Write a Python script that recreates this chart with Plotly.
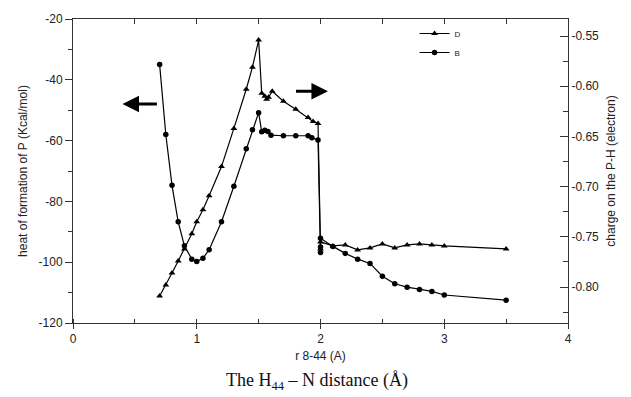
import plotly.graph_objects as go

# Series B (circles) - left axis: heat of formation of P (Kcal/mol)
b_x = [0.70, 0.75, 0.80, 0.85, 0.90, 0.96, 1.00, 1.05, 1.10, 1.20, 1.30, 1.40, 1.45, 1.50,
       1.525, 1.55, 1.575, 1.60, 1.70, 1.80, 1.90, 1.93, 1.98, 2.00, 2.00, 2.00,
       2.10, 2.20, 2.30, 2.40, 2.50, 2.60, 2.70, 2.80, 2.90, 3.00, 3.50]
b_y = [-35.0, -58.0, -74.7, -86.7, -94.6, -99.0, -99.8, -98.7, -95.9, -86.7, -75.0, -62.7, -56.4, -50.8,
       -57.1, -56.6, -57.0, -58.2, -58.4, -58.4, -58.4, -59.1, -59.8, -96.8, -95.0, -92.1,
       -94.8, -97.1, -99.0, -100.4, -104.6, -107.1, -108.2, -109.0, -109.6, -110.8, -112.5]

# Series D (triangles) - right axis: charge on the P-H (electron)
d_x = [0.70, 0.75, 0.80, 0.85, 0.90, 0.96, 1.00, 1.05, 1.10, 1.20, 1.30, 1.40, 1.45, 1.50,
       1.525, 1.55, 1.565, 1.58, 1.61, 1.70, 1.80, 1.90, 1.94, 1.98, 2.00, 2.00,
       2.10, 2.20, 2.30, 2.40, 2.50, 2.60, 2.70, 2.80, 2.90, 3.00, 3.50]
d_y = [-0.809, -0.798, -0.786, -0.774, -0.762, -0.747, -0.735, -0.723, -0.709, -0.680, -0.642, -0.603, -0.581, -0.554,
       -0.607, -0.610, -0.613, -0.611, -0.605, -0.615, -0.623, -0.631, -0.635, -0.637, -0.762, -0.755,
       -0.759, -0.758, -0.763, -0.761, -0.757, -0.761, -0.758, -0.757, -0.758, -0.759, -0.762]

# tick labels
x_ticks = [0, 1, 2, 3, 4]
x_ticklabels = ["0", "1", "2", "3", "4"]
left_ticks = [-120, -100, -80, -60, -40, -20]
left_ticklabels = ["-120", "-100", "-80", "-60", "-40", "-20"]
right_ticks = [-0.80, -0.75, -0.70, -0.65, -0.60, -0.55]
right_ticklabels = ["-0.80", "-0.75", "-0.70", "-0.65", "-0.60", "-0.55"]

x_range = [0, 4]
left_range = [-120, -20]
right_range = [-0.8358, -0.533]

FONT = "Liberation Sans, Arial, sans-serif"
AX = "#333333"

fig = go.Figure()
fig.add_trace(go.Scatter(
    x=d_x, y=d_y, name="D", yaxis="y2", mode="lines+markers",
    line=dict(color="black", width=1.2),
    marker=dict(symbol="triangle-up", size=6, color="black"),
))
fig.add_trace(go.Scatter(
    x=b_x, y=b_y, name="B", yaxis="y", mode="lines+markers",
    line=dict(color="black", width=1.2),
    marker=dict(symbol="circle", size=5.5, color="black"),
))
# invisible helper for the top axis
fig.add_trace(go.Scatter(x=x_range, y=left_range, xaxis="x2", yaxis="y",
                         mode="markers", marker=dict(opacity=0), showlegend=False,
                         hoverinfo="skip"))

fig.update_layout(
    width=631, height=397,
    margin=dict(l=73, r=63, t=16, b=74),
    paper_bgcolor="white", plot_bgcolor="white",
    font=dict(family=FONT, size=12, color="#222"),
    xaxis=dict(
        range=x_range, tickmode="array", tickvals=x_ticks, ticktext=x_ticklabels,
        showgrid=False, zeroline=False,
        showline=True, linecolor=AX, linewidth=1,
        ticks="outside", ticklen=5, tickcolor=AX,
        minor=dict(dtick=0.5, tick0=0, ticks="inside", ticklen=4, tickcolor=AX),
        tickfont=dict(size=12),
        title=dict(text="r 8-44 (A)", font=dict(size=12), standoff=6),
    ),
    xaxis2=dict(
        range=x_range, overlaying="x", side="top", showgrid=False, zeroline=False,
        showline=True, linecolor=AX, linewidth=1, showticklabels=False,
        ticks="inside", ticklen=5, tickcolor=AX, dtick=0.5, tick0=0,
    ),
    yaxis=dict(
        range=left_range, tickmode="array", tickvals=left_ticks, ticktext=left_ticklabels,
        showgrid=False, zeroline=False,
        showline=True, linecolor=AX, linewidth=1,
        ticks="outside", ticklen=7, tickcolor=AX,
        minor=dict(dtick=10, tick0=-120, ticks="outside", ticklen=4, tickcolor=AX),
        tickfont=dict(size=12),
        title=dict(text="heat of formation of P (Kcal/mol)", font=dict(size=12), standoff=8),
    ),
    yaxis2=dict(
        range=right_range, overlaying="y", side="right", anchor="x",
        tickmode="array", tickvals=right_ticks, ticktext=right_ticklabels,
        showgrid=False, zeroline=False,
        showline=True, linecolor=AX, linewidth=1,
        ticks="inside", ticklen=8, tickcolor=AX,
        minor=dict(dtick=0.025, tick0=-0.8, ticks="inside", ticklen=5, tickcolor=AX),
        tickfont=dict(size=12),
        title=dict(text="charge on the P-H (electron)", font=dict(size=12), standoff=8),
    ),
    legend=dict(
        x=0.69, y=1.0, xanchor="left", yanchor="top",
        bgcolor="rgba(0,0,0,0)", font=dict(size=8, family=FONT),
        itemwidth=30, tracegroupgap=0,
    ),
    showlegend=True,
)

# direction arrows
fig.add_annotation(x=0.40, y=-48.0, ax=0.69, ay=-48.0, xref="x", yref="y",
                   axref="x", ayref="y", text="", showarrow=True,
                   arrowhead=2, arrowsize=1.1, arrowwidth=3, arrowcolor="black")
fig.add_annotation(x=2.06, y=-43.8, ax=1.79, ay=-43.8, xref="x", yref="y",
                   axref="x", ayref="y", text="", showarrow=True,
                   arrowhead=2, arrowsize=1.1, arrowwidth=3, arrowcolor="black")

# caption below the chart
fig.add_annotation(x=0.493, y=0, xref="paper", yref="paper", yshift=-58,
                   text="The H<sub>44</sub> \u2013 N distance (\u00c5)", showarrow=False,
                   font=dict(family="Liberation Serif, Times New Roman, serif", size=18, color="#111"),
                   xanchor="center", yanchor="middle")

fig.write_html("out.html")
